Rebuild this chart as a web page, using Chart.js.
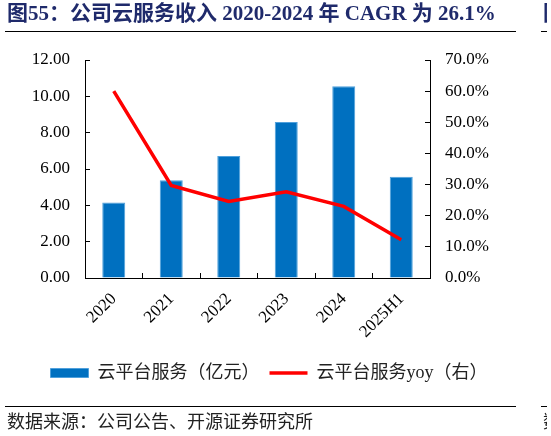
<!DOCTYPE html>
<html>
<head>
<meta charset="utf-8">
<script src="https://cdn.jsdelivr.net/npm/chart.js@4.4.1/dist/chart.umd.min.js"></script>
<style>
  html, body { margin: 0; padding: 0; background: #fff; }
  #wrap { width: 551px; height: 436px; position: relative; }
</style>
</head>
<body>
<div id="wrap"><canvas id="c" width="551" height="436"></canvas></div>
<script>
var categories = ["2020", "2021", "2022", "2023", "2024", "2025H1"];
var revenue = [4.16, 5.38, 6.71, 8.59, 10.55, 5.57];      // 亿元
var yoy = [60.0, 29.7, 24.6, 27.7, 23.0, 12.3];            // %
var leftTicks = [0, 2, 4, 6, 8, 10, 12];
var rightTicks = [0, 10, 20, 30, 40, 50, 60, 70];

var TITLE = "图55：公司云服务收入 2020-2024 年 CAGR 为 26.1%";
var SOURCE = "数据来源：公司公告、开源证券研究所";
var SERIF = "'Liberation Serif', 'Noto Sans CJK SC', serif";

var PAD_RIGHT = 13;

// title, rules and source line drawn on the same canvas
var frame = {
    id: "frame",
    afterDraw: function(chart) {
        var ctx = chart.ctx;
        ctx.save();
        ctx.textBaseline = "middle";
        ctx.fillStyle = "#1f2a6b";
        ctx.font = "bold 21px " + SERIF;
        ctx.fillText(TITLE, 7, 15);

        ctx.strokeStyle = "#000";
        ctx.lineWidth = 1;
        ctx.beginPath();
        ctx.moveTo(5, 31.5); ctx.lineTo(516, 31.5);
        ctx.moveTo(541, 31.5); ctx.lineTo(547, 31.5);
        ctx.moveTo(5, 406.5); ctx.lineTo(516, 406.5);
        ctx.moveTo(541, 406.5); ctx.lineTo(547, 406.5);
        ctx.stroke();

        ctx.fillStyle = "#222";
        ctx.font = "18px " + SERIF;
        ctx.fillText(SOURCE, 7, 423);

        // edge of the neighbouring figure, cut off by the crop
        ctx.beginPath();
        ctx.rect(541, 0, 6, 436);
        ctx.clip();
        ctx.fillStyle = "#1f2a6b";
        ctx.font = "bold 21px " + SERIF;
        ctx.fillText("图", 543, 15);
        ctx.fillStyle = "#222";
        ctx.font = "18px " + SERIF;
        ctx.fillText("数", 543, 423);
        ctx.restore();
    }
};

new Chart(document.getElementById("c"), {
    type: "bar",
    data: {
        labels: categories,
        datasets: [{
            type: "line",
            label: "云平台服务yoy（右）",
            data: yoy,
            yAxisID: "y1",
            borderColor: "#ff0000",
            backgroundColor: "#ff0000",
            borderWidth: 3.5,
            pointRadius: 0,
            pointStyle: "line",
            tension: 0,
            order: 0
        }, {
            type: "bar",
            label: "云平台服务（亿元）",
            data: revenue,
            yAxisID: "y",
            backgroundColor: "#0070c0",
            borderColor: "#4fa0dc",
            borderWidth: 1,
            pointStyle: "rect",
            barPercentage: 0.4,
            categoryPercentage: 1,
            order: 1
        }]
    },
    options: {
        responsive: false,
        animation: false,
        layout: { padding: { top: 60, left: 0, right: PAD_RIGHT, bottom: 44 } },
        plugins: {
            title: { display: false },
            tooltip: { enabled: false },
            legend: {
                position: "bottom",
                align: "center",
                reverse: true,
                labels: {
                    usePointStyle: true,
                    pointStyleWidth: 38,
                    boxHeight: 9,
                    padding: 10,
                    color: "#222",
                    font: { family: SERIF, size: 18 }
                }
            }
        },
        scales: {
            x: {
                offset: true,
                grid: { display: true, drawOnChartArea: false, drawTicks: true, tickLength: -5, offset: true, color: "#000" },
                border: { display: true, color: "#000", width: 1 },
                ticks: {
                    color: "#000",
                    font: { family: SERIF, size: 17 },
                    minRotation: 45,
                    maxRotation: 45,
                    padding: 16
                },
                afterFit: function(scale) { scale.height = 76; }
            },
            y: {
                position: "left",
                min: 0,
                max: 12,
                afterBuildTicks: function(scale) {
                    scale.ticks = leftTicks.map(function(v) { return { value: v }; });
                },
                grid: { display: true, drawOnChartArea: false, drawTicks: true, tickLength: -5, color: "#000" },
                border: { display: true, color: "#000", width: 1 },
                ticks: {
                    color: "#000",
                    font: { family: SERIF, size: 17 },
                    padding: 20,
                    callback: function(v) { return Number(v).toFixed(2); }
                },
                afterFit: function(scale) { scale.width = 85; }
            },
            y1: {
                position: "right",
                min: 0,
                max: 70,
                afterBuildTicks: function(scale) {
                    scale.ticks = rightTicks.map(function(v) { return { value: v }; });
                },
                grid: { display: true, drawOnChartArea: false, drawTicks: true, tickLength: -5, color: "#000" },
                border: { display: true, color: "#000", width: 1 },
                ticks: {
                    color: "#000",
                    font: { family: SERIF, size: 17 },
                    padding: 20,
                    callback: function(v) { return Number(v).toFixed(1) + "%"; }
                },
                afterFit: function(scale) { scale.width = 121 - PAD_RIGHT; }
            }
        }
    },
    plugins: [frame]
});
</script>
</body>
</html>
